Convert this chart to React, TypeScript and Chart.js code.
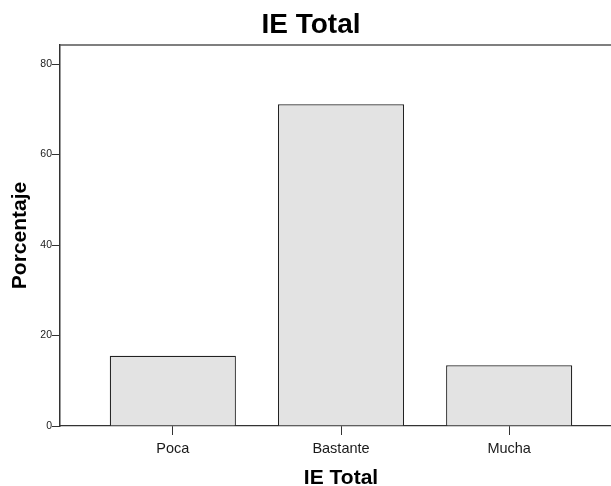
import React, { useEffect, useRef } from "react";
import { Chart, registerables } from "chart.js";

Chart.register(...registerables);

const categories = ["Poca", "Bastante", "Mucha"];
const percentages = [15.5, 71.1, 13.4];
const yTickValues = [0, 20, 40, 60, 80];
const chartTitle = "IE Total";
const xAxisTitle = "IE Total";
const yAxisTitle = "Porcentaje";

const FAMILY = "'Liberation Sans', Arial, sans-serif";

export default function App() {
  const ref = useRef<HTMLCanvasElement>(null);

  useEffect(() => {
    if (!ref.current) return;
    const framePlugin = {
      id: "frameTop",
      afterDraw(chart: any) {
        const { ctx, chartArea } = chart;
        ctx.save();
        ctx.strokeStyle = "#555";
        ctx.lineWidth = 1.5;
        ctx.beginPath();
        ctx.moveTo(chartArea.left, chartArea.top);
        ctx.lineTo(chartArea.right, chartArea.top);
        ctx.stroke();
        ctx.restore();
      },
    };

    const chart = new Chart(ref.current, {
      type: "bar",
      data: {
        datasets: [
          {
            data: categories.map((c, i) => ({ x: i, y: percentages[i] })),
            backgroundColor: "#e3e3e3",
            borderColor: "#222222",
            borderWidth: 1.2,
            barPercentage: 0.75,
            categoryPercentage: 1,
          } as any,
        ],
      },
      options: {
        animation: false,
        responsive: true,
        maintainAspectRatio: false,
        layout: { padding: 0 },
        plugins: {
          legend: { display: false },
          tooltip: { enabled: false },
          title: {
            display: true,
            text: chartTitle,
            color: "#000",
            font: { family: FAMILY, size: 28, weight: "bold", lineHeight: 1.2 },
            padding: { top: 8, bottom: 3.4 },
          },
        },
        scales: {
          x: {
            type: "linear",
            offset: false,
            min: -0.671,
            max: 2.671,
            afterBuildTicks: (axis: any) => {
              axis.ticks = categories.map((_, i) => ({ value: i }));
            },
            afterFit: (axis: any) => {
              axis.height = 60;
            },
            ticks: {
              callback: (v: any) => categories[v as number] ?? "",
              color: "#1a1a1a",
              font: { family: FAMILY, size: 14.5 },
              padding: 5,
              autoSkip: false,
              maxRotation: 0,
            },
            grid: {
              display: true,
              offset: false,
              drawOnChartArea: false,
              drawTicks: true,
              tickLength: 9,
              color: "#333",
            },
            border: { display: true, color: "#333", width: 1.2 },
            title: {
              display: true,
              text: xAxisTitle,
              color: "#000",
              font: { family: FAMILY, size: 21, weight: "bold", lineHeight: 0.7 },
              padding: { top: 0, bottom: 0 },
            },
          },
          y: {
            type: "linear",
            min: 0,
            max: 84.2,
            afterBuildTicks: (axis: any) => {
              axis.ticks = yTickValues.map((v) => ({ value: v }));
            },
            afterFit: (axis: any) => {
              axis.width = 60;
            },
            ticks: {
              color: "#222",
              font: { family: FAMILY, size: 10.5 },
              padding: 0,
            },
            grid: {
              display: true,
              drawOnChartArea: false,
              drawTicks: true,
              tickLength: 8,
              color: "#333",
            },
            border: { display: true, color: "#333", width: 1.5 },
            title: {
              display: true,
              text: yAxisTitle,
              color: "#000",
              font: { family: FAMILY, size: 21, weight: "bold", lineHeight: 1.2 },
              padding: { top: 8, bottom: 0 },
            },
          },
        },
      } as any,
      plugins: [framePlugin],
    });
    return () => chart.destroy();
  }, []);

  return (
    <div style={{ position: "fixed", left: 0, top: 0, width: 611, height: 486, overflow: "hidden", background: "#fff" }}>
      <div style={{ position: "absolute", left: 0, top: 0, width: 622, height: 486 }}>
        <canvas ref={ref} />
      </div>
    </div>
  );
}
